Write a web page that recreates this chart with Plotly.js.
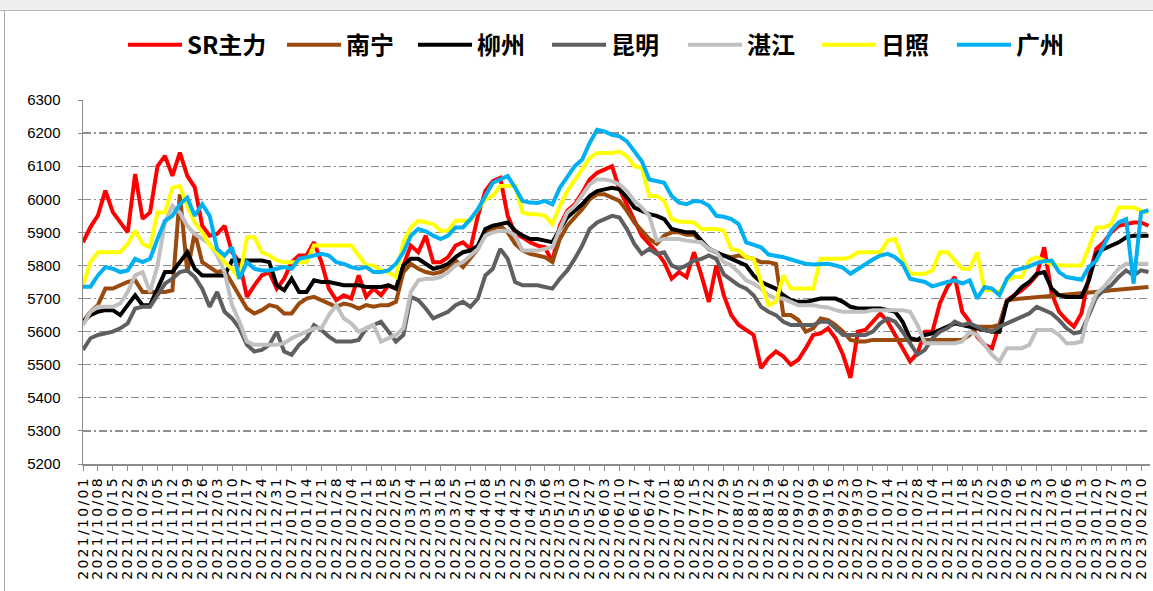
<!DOCTYPE html>
<html>
<head>
<meta charset="utf-8">
<script src="https://cdn.plot.ly/plotly-3.0.1.min.js"></script>
<style>
  html, body { margin:0; padding:0; background:#ffffff; }
  #topstrip { position:absolute; left:0; top:0; width:1153px; height:10px; background:#eeeeee; border-bottom:1px solid #b8b8b8; }
  #frame { position:absolute; left:4px; top:11px; width:1149px; height:580px; border-left:1px solid #a8a8a8; }
  #chart { position:absolute; left:0; top:0; width:1153px; height:591px; }
  .xtick text { letter-spacing: 2.3px; }
</style>
</head>
<body>
<div id="topstrip"></div>
<div id="frame"></div>
<div id="chart"></div>
<script>
// x positions: samples every half week starting 2021/10/01
const startDate = "2021-10-01";
const stepDays = 3.5;

const seriesNames = ["SR主力", "南宁", "柳州", "昆明", "湛江", "日照", "广州"];
const seriesColors = ["#FF0000", "#9A4A0C", "#000000", "#5F5F5F", "#C0C0C0", "#FFFF00", "#00B0F0"];

const sr = [5870,5916,5951,6026,5961,5930,5900,6076,5941,5960,6100,6131,6071,6141,6071,6036,5920,5890,5895,5920,
5840,5810,5705,5740,5770,5780,5730,5760,5810,5830,5830,5870,5810,5730,5695,5710,5700,5770,5705,5730,
5710,5740,5730,5800,5860,5840,5890,5810,5810,5825,5860,5870,5850,5950,6025,6055,6065,5950,5895,5885,
5870,5860,5855,5810,5920,5965,5985,6020,6060,6080,6090,6100,6030,5985,5935,5890,5865,5840,5810,5760,
5780,5765,5840,5770,5690,5800,5710,5650,5620,5605,5590,5490,5520,5540,5525,5500,5515,5550,5590,5595,
5610,5580,5530,5460,5600,5605,5630,5655,5630,5590,5545,5510,5535,5600,5600,5685,5735,5765,5660,5630,
5585,5560,5550,5625,5695,5710,5725,5745,5770,5855,5715,5660,5635,5615,5655,5765,5850,5870,5900,5920,
5925,5930,5930,5920];

const nanning = [5630,5660,5680,5730,5730,5740,5750,5755,5720,5720,5720,5720,5725,6015,5780,5900,5810,5795,5780,5785,
5745,5710,5670,5655,5665,5680,5675,5655,5655,5685,5700,5705,5695,5685,5675,5685,5680,5670,5680,5675,
5680,5680,5690,5780,5805,5790,5780,5775,5780,5795,5815,5795,5825,5850,5900,5910,5920,5900,5865,5845,
5835,5830,5825,5810,5880,5920,5945,5970,6000,6015,6015,6005,5995,5965,5930,5905,5880,5865,5890,5900,
5900,5893,5893,5870,5850,5840,5830,5825,5830,5825,5820,5810,5810,5805,5650,5650,5635,5600,5610,5640,
5635,5620,5600,5575,5570,5570,5575,5575,5575,5575,5575,5575,5575,5575,5575,5575,5575,5575,5575,5590,
5615,5615,5615,5620,5695,5698,5700,5702,5705,5705,5708,5710,5710,5712,5715,5718,5720,5722,5725,5727,
5730,5732,5733,5735];

const liuzhou = [5630,5650,5660,5665,5665,5650,5680,5710,5680,5680,5730,5780,5780,5810,5840,5790,5770,5770,5770,5770,
5815,5815,5815,5815,5815,5810,5740,5725,5760,5720,5720,5755,5750,5750,5745,5740,5740,5740,5735,5735,
5735,5740,5730,5800,5820,5820,5805,5790,5795,5805,5825,5840,5845,5860,5910,5920,5925,5930,5905,5890,
5880,5880,5875,5870,5910,5945,5965,5985,6010,6025,6030,6035,6030,6005,5975,5965,5955,5950,5940,5910,
5905,5900,5900,5875,5850,5840,5830,5820,5810,5800,5770,5750,5740,5730,5710,5695,5690,5690,5695,5700,
5700,5700,5690,5675,5670,5670,5670,5670,5665,5660,5630,5580,5575,5590,5595,5605,5615,5625,5620,5615,
5610,5605,5600,5600,5690,5710,5735,5750,5775,5780,5730,5710,5705,5705,5705,5755,5835,5850,5860,5870,
5885,5890,5890,5890];

const kunming = [5545,5580,5590,5595,5600,5610,5625,5670,5675,5675,5710,5745,5760,5780,5785,5765,5730,5675,5720,5660,
5640,5610,5560,5540,5545,5560,5600,5540,5530,5560,5580,5620,5605,5585,5570,5570,5570,5575,5610,5620,
5630,5600,5570,5590,5705,5695,5670,5640,5650,5660,5680,5690,5675,5700,5770,5790,5850,5820,5750,5740,
5740,5740,5735,5730,5760,5785,5820,5860,5910,5930,5940,5950,5945,5910,5865,5835,5850,5835,5840,5800,
5790,5800,5815,5820,5830,5820,5773,5755,5740,5730,5710,5675,5660,5650,5630,5620,5620,5620,5620,5630,
5630,5610,5590,5590,5590,5590,5600,5625,5640,5630,5600,5565,5530,5545,5580,5600,5610,5630,5620,5625,
5615,5605,5600,5615,5625,5635,5645,5655,5675,5665,5655,5635,5610,5595,5600,5650,5705,5725,5740,5765,
5785,5770,5785,5780];

const zhanjiang = [5620,5660,5675,5675,5675,5685,5720,5770,5780,5720,5800,5930,5980,5960,5920,5895,5880,5865,5830,5780,
5680,5630,5570,5560,5560,5560,5560,5565,5580,5590,5600,5610,5610,5650,5680,5640,5625,5600,5610,5620,
5570,5580,5590,5610,5720,5755,5760,5760,5765,5780,5800,5810,5830,5850,5890,5900,5905,5905,5890,5845,
5845,5845,5850,5855,5910,5960,5980,6010,6045,6060,6060,6055,6045,6025,5995,5975,5950,5875,5880,5880,
5880,5875,5873,5870,5850,5840,5810,5800,5780,5755,5745,5730,5710,5700,5700,5690,5680,5680,5680,5675,
5673,5665,5660,5660,5660,5660,5665,5665,5665,5665,5665,5660,5620,5565,5565,5565,5565,5565,5570,5600,
5590,5560,5530,5510,5550,5550,5550,5560,5605,5605,5605,5590,5565,5565,5570,5660,5715,5735,5765,5790,
5805,5805,5805,5805];

const rizhao = [5740,5810,5840,5840,5840,5840,5865,5905,5865,5855,5960,5960,6035,6040,5980,5930,5900,5860,5840,5810,
5790,5760,5885,5885,5840,5830,5815,5810,5810,5810,5810,5860,5860,5860,5860,5860,5860,5830,5800,5800,
5785,5780,5765,5870,5915,5935,5930,5925,5905,5905,5935,5935,5935,5970,6000,6010,6040,6040,6040,5960,
5955,5955,5950,5925,5980,6025,6055,6090,6125,6140,6140,6140,6145,6130,6100,6095,6010,6010,5995,5940,
5933,5930,5930,5910,5910,5910,5905,5850,5845,5825,5820,5750,5680,5690,5770,5730,5730,5730,5730,5820,
5820,5820,5820,5825,5840,5840,5840,5840,5875,5880,5820,5775,5775,5775,5785,5840,5840,5815,5790,5790,
5840,5725,5725,5720,5755,5765,5765,5815,5825,5815,5803,5800,5800,5800,5800,5855,5915,5915,5925,5975,
5975,5975,5965,5960];

const guangzhou = [5736,5736,5770,5795,5790,5780,5785,5820,5810,5820,5880,5935,5950,5985,6005,5950,5985,5950,5850,5830,
5855,5760,5810,5790,5785,5785,5790,5795,5790,5820,5825,5830,5835,5830,5810,5805,5795,5790,5795,5780,
5780,5785,5805,5840,5890,5910,5903,5890,5880,5890,5915,5915,5940,5970,6010,6050,6060,6070,6035,5995,
5990,5989,5995,5985,6035,6070,6100,6120,6170,6210,6205,6195,6190,6175,6145,6115,6060,6055,6050,6010,
5990,5985,5995,5993,5980,5950,5947,5940,5925,5870,5863,5855,5833,5830,5825,5818,5810,5805,5803,5805,
5805,5800,5793,5775,5790,5805,5818,5830,5835,5825,5805,5760,5755,5750,5737,5745,5750,5755,5745,5755,
5700,5735,5730,5710,5760,5785,5790,5797,5807,5813,5815,5780,5765,5760,5757,5795,5815,5860,5905,5930,
5940,5745,5960,5967];

const seriesValues = [sr, nanning, liuzhou, kunming, zhanjiang, rizhao, guangzhou];

const yTicks = [5200,5300,5400,5500,5600,5700,5800,5900,6000,6100,6200,6300];

function pad(n){ return (n<10?'0':'') + n; }
function toStr(ms){
  const d = new Date(ms);
  return d.getUTCFullYear()+'-'+pad(d.getUTCMonth()+1)+'-'+pad(d.getUTCDate())+' '+pad(d.getUTCHours())+':'+pad(d.getUTCMinutes());
}
const t0 = Date.parse(startDate + "T00:00:00Z");
const xDates = sr.map((_, k) => toStr(t0 + k*stepDays*86400000));

const legendIds = ['legend','legend2','legend3','legend4','legend5','legend6','legend7'];
// left edge of each legend entry (paper fraction of plot width)
const legendX = [0.0375, 0.1865, 0.3093, 0.4349, 0.5623, 0.6879, 0.8144];

const traces = seriesValues.map((vals, i) => ({
  type: 'scatter',
  mode: 'lines',
  name: seriesNames[i],
  legend: legendIds[i],
  x: xDates,
  y: vals,
  line: {color: seriesColors[i], width: 4},
  hoverinfo: 'skip'
}));

const layout = {
  width: 1153,
  height: 591,
  margin: {l: 83, r: 3, t: 100, b: 127},
  paper_bgcolor: 'rgba(0,0,0,0)',
  plot_bgcolor: 'rgba(0,0,0,0)',
  showlegend: true,
  xaxis: {
    type: 'date',
    range: ['2021-10-01 00:00', '2023-02-14 05:00'],
    tickmode: 'linear',
    tick0: '2021-10-01',
    dtick: 7*86400000,
    tickformat: '%Y/%m/%d',
    tickangle: -90,
    tickfont: {family: 'DejaVu Sans', size: 14, color: '#000000'},
    ticks: 'outside',
    ticklen: 5,
    tickcolor: '#8c8c8c',
    showgrid: false,
    showline: true,
    linecolor: '#8c8c8c',
    linewidth: 1.5,
    zeroline: false,
    fixedrange: true
  },
  yaxis: {
    range: [5200, 6300],
    tickmode: 'array',
    tickvals: yTicks,
    ticktext: yTicks.map(String),
    tickfont: {family: 'Liberation Sans', size: 15, color: '#000000'},
    ticks: 'outside',
    ticklen: 4,
    tickcolor: '#8c8c8c',
    ticklabelstandoff: 14,
    showgrid: true,
    gridcolor: '#8f8f8f',
    gridwidth: 1.3,
    griddash: '8px,3px,2px,3px',
    showline: true,
    linecolor: '#8c8c8c',
    linewidth: 1.5,
    zeroline: false,
    fixedrange: true
  }
};

legendIds.forEach((id, i) => {
  layout[id] = {
    orientation: 'h',
    x: legendX[i], xanchor: 'left',
    y: 1.151, yanchor: 'middle',
    itemwidth: 54,
    font: {family: 'Noto Sans CJK SC', size: 24, weight: 700, color: '#000000'},
    bgcolor: 'rgba(0,0,0,0)'
  };
});

Plotly.newPlot('chart', traces, layout, {staticPlot: true, displayModeBar: false});
</script>
</body>
</html>
